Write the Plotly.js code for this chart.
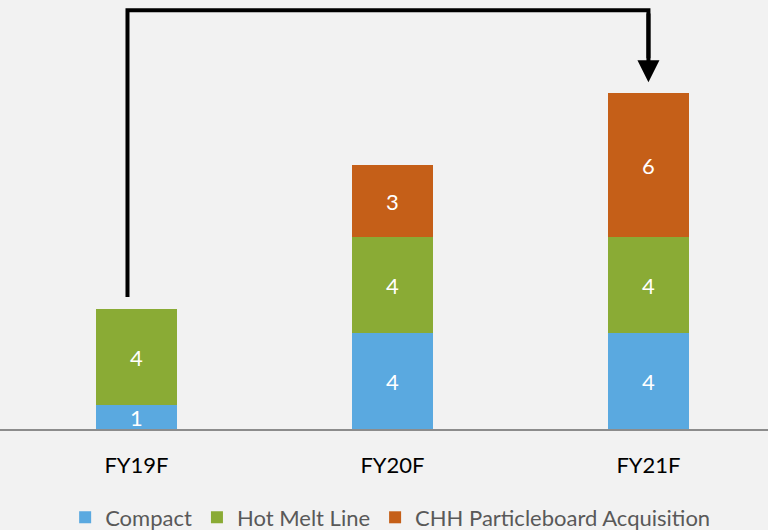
<!DOCTYPE html>
<html>
<head>
<meta charset="utf-8">
<script src="https://cdn.plot.ly/plotly-3.0.1.min.js"></script>
<style>html,body{margin:0;padding:0;background:#f2f2f2;}#chart{width:768px;height:530px;}</style>
</head>
<body>
<div id="chart"></div>
<script>
const categories = ["FY19F", "FY20F", "FY21F"];
const compact = [1, 4, 4];
const hotMelt = [4, 4, 4];
const chh = [null, 3, 6];
const seriesNames = ["Compact", "Hot Melt Line", "CHH Particleboard Acquisition"];
const colors = ["#5aa9e0", "#8aab35", "#c55f18"];
// arrow: from top of FY19F bar to top of FY21F bar
const arrowStartY = 5.5, arrowTopY = 17.45, arrowTipY = 14.45;

const FONT = "Lato, 'Open Sans', sans-serif";
function series(vals, i) {
  return {
    type: "bar", x: categories, y: vals, name: seriesNames[i],
    marker: {color: colors[i]},
    text: vals.map(v => v == null ? "" : String(v)),
    textposition: "inside", insidetextanchor: "middle", textangle: 0,
    constraintext: "none",
    textfont: {color: "#ffffff", size: 22, family: FONT},
    hoverinfo: "skip", cliponaxis: false
  };
}
const data = [series(compact, 0), series(hotMelt, 1), series(chh, 2)];

const layout = {
  width: 768, height: 530,
  paper_bgcolor: "#f2f2f2", plot_bgcolor: "#f2f2f2",
  margin: {l: 0, r: 0, t: 0, b: 101, autoexpand: false},
  barmode: "stack", bargap: 0.684,
  showlegend: true,
  legend: {orientation: "h", x: 0.508, xanchor: "center", yref: "container", y: 0.0236, yanchor: "middle",
           font: {size: 22, color: "#595959", family: FONT},
           traceorder: "normal", itemclick: false, bgcolor: "rgba(0,0,0,0)"},
  xaxis: {type: "category", range: [-0.533, 2.467], showline: true, linecolor: "#8c8c8c",
          linewidth: 2, ticks: "", showgrid: false, zeroline: false,
          ticklabelstandoff: 16,
          tickfont: {size: 22, color: "#000000", family: FONT}},
  yaxis: {visible: false, range: [0, 17.875], showgrid: false, zeroline: false},
  shapes: [{
    type: "path", xref: "x", yref: "y",
    path: `M -0.035,${arrowStartY} L -0.035,${arrowTopY} L 2,${arrowTopY} L 2,${arrowTipY + 1}`,
    line: {color: "#000000", width: 4}
  }],
  annotations: [{
    xref: "x", yref: "y", axref: "x", ayref: "y",
    x: 2, y: arrowTipY, ax: 2, ay: arrowTopY - 0.08,
    text: "", showarrow: true, arrowhead: 2, arrowsize: 1.1, arrowwidth: 4,
    arrowcolor: "#000000", standoff: 0, startstandoff: 0
  }]
};

Plotly.newPlot("chart", data, layout, {displayModeBar: false, staticPlot: true});
</script>
</body>
</html>
